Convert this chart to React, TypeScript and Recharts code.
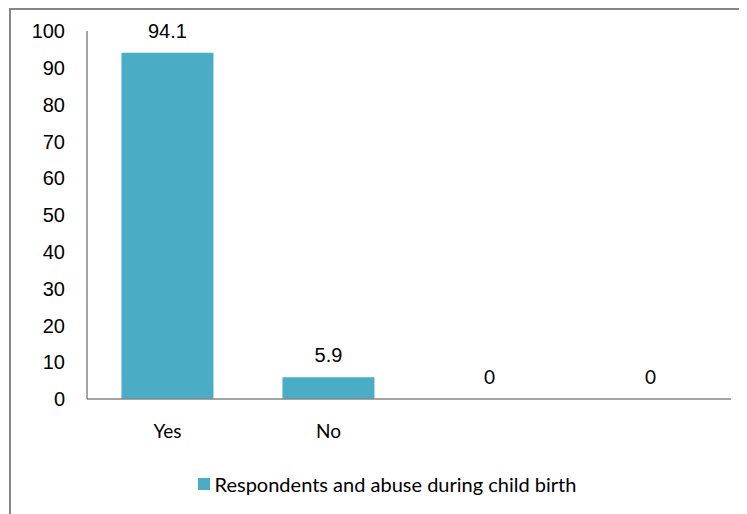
import React from 'react';
import { BarChart, Bar, XAxis, YAxis, Legend, LabelList } from 'recharts';

const categories = ['Yes', 'No', '', ''];
const values = [94.1, 5.9, 0, 0];
const yTicks = [0, 10, 20, 30, 40, 50, 60, 70, 80, 90, 100];
const seriesName = 'Respondents and abuse during child birth';

const BAR_COLOR = '#4bacc6';
const AXIS_COLOR = '#868686';

const data = categories.map((name, i) => ({ name, value: values[i] }));

const ValueLabel = (props: any) => {
  const { x, y, width, value } = props;
  const isZero = Number(value) === 0;
  return (
    <text
      x={x + width / 2}
      y={y - 15}
      textAnchor="middle"
      fill="#000"
      fontSize={isZero ? 19 : 20}
      fontFamily={isZero ? 'Lato, sans-serif' : '"Liberation Sans", Arial, sans-serif'}
    >
      {value}
    </text>
  );
};

const LegendContent = () => (
  <div
    style={{
      display: 'flex',
      justifyContent: 'center',
      alignItems: 'center',
      paddingLeft: 32,
      height: 24,
      fontFamily: 'Lato, sans-serif',
      fontSize: 20,
      color: '#000',
    }}
  >
    <span style={{ width: 12, height: 12, background: BAR_COLOR, marginRight: 5 }} />
    <span>{seriesName}</span>
  </div>
);

export default function App() {
  return (
    <div
      style={{
        marginLeft: 1,
        width: 736,
        height: 504,
        borderTop: `2px solid ${AXIS_COLOR}`,
        borderLeft: `2px solid ${AXIS_COLOR}`,
        background: '#fff',
      }}
    >
      <BarChart
        width={736}
        height={504}
        data={data}
        margin={{ top: 21, right: 16, left: 0, bottom: 18 }}
        barCategoryGap="21.4%"
      >
        <XAxis
          dataKey="name"
          height={73}
          tickLine={false}
          tickSize={0}
          tickMargin={26}
          axisLine={{ stroke: AXIS_COLOR, strokeWidth: 1.5 }}
          tick={{ fill: '#000', fontSize: 19, fontFamily: 'Lato, sans-serif' }}
          interval={0}
        />
        <YAxis
          width={76}
          domain={[0, 100]}
          ticks={yTicks}
          tickLine={false}
          tickSize={0}
          tickMargin={22}
          axisLine={{ stroke: AXIS_COLOR, strokeWidth: 1.5 }}
          tick={{ fill: '#000', fontSize: 20, fontFamily: '"Liberation Sans", Arial, sans-serif' }}
        />
        <Legend verticalAlign="bottom" height={24} content={<LegendContent />} />
        <Bar
          dataKey="value"
          name={seriesName}
          fill={BAR_COLOR}
          minPointSize={0.01}
          isAnimationActive={false}
        >
          <LabelList dataKey="value" content={<ValueLabel />} />
        </Bar>
      </BarChart>
    </div>
  );
}
